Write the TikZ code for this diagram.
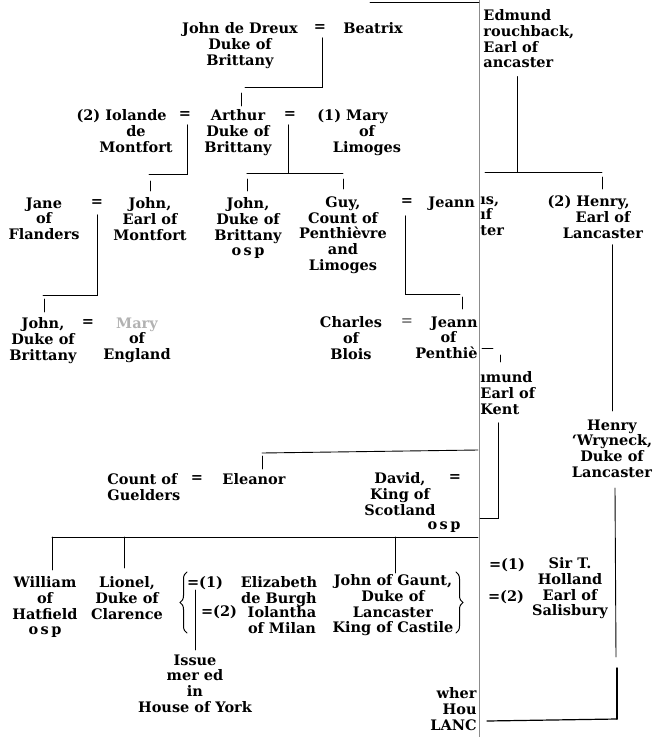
\documentclass[tikz,border=0pt]{standalone}
\usepackage{fontspec}
\setmainfont{DejaVu Serif}
\usetikzlibrary{decorations.pathreplacing}
\newcommand{\chartfont}{\bfseries\fontsize{14.5}{15.8}\selectfont}

\begin{document}
\begin{tikzpicture}[x=1pt, y=-1pt, line width=0.9pt, line cap=round,
  person/.style={anchor=north, align=center, inner sep=0pt, font=\chartfont},
  wed/.style={inner sep=0pt, font=\chartfont},
  pageedge/.style={line width=0.5pt, draw=black!45},
  bracket/.style={decorate, decoration={brace, amplitude=7pt}, line width=1pt}]
  \useasboundingbox (0,0) rectangle (662,737);

  %% ════ de Dreux / Brittany ════
  \node[person] (dreux) at (240,22) {John de Dreux\\Duke of\\Brittany};
  \node[wed] (eqA) at (320,28) {=};
  \node[person] (beatrix) at (373,22) {Beatrix};

  \node[person] (iolande) at (136,109) {\llap{(2) }Iolande\\de\\Montfort};
  \node[wed] (eqB) at (185,115) {=};
  \node[person] (arthur) at (238,109) {Arthur\\Duke of\\Brittany};
  \node[wed] (eqC) at (290,115) {=};
  \node[person] (mary) at (367,109) {\llap{(1) }Mary\\of\\Limoges};

  \node[person] (jane) at (44,197) {Jane\\of\\Flanders};
  \node[wed] (eqD) at (97,203) {=};
  \node[person] (johnM) at (150,197) {John,\\Earl of\\Montfort};
  \node[person] (johnB) at (248,197) {John,\\Duke of\\Brittany\\o\,s\,p};
  \node[person] (guy) at (343,196) {Guy,\\Count of\\Penthièvre\\and\\Limoges};
  \node[wed] (eqE) at (407,202) {=};
  \node[person, anchor=north west] (jeann) at (428,196) {Jeann};

  \node[person] (johnD) at (43,317) {John,\\Duke of\\Brittany};
  \node[wed] (eqF) at (88,323) {=};
  \node[person] (maryE) at (137,317) {{\color{black!30}Mary}\\of\\England};
  \node[person] (charles) at (351,316) {Charles\\of\\Blois};
  \node[wed, text=black!55] (eqG) at (407,322) {=};
  \node[person, anchor=north east, align=right] (jeannP) at (478,316) {Jeann\\of\hphantom{nn}\\Penthiè};

  %% ════ Edward's line ════
  \node[person] (eleanor) at (254,473) {Eleanor};
  \node[wed] (eqH) at (197,479) {=};
  \node[person, anchor=north west, align=left] (countG) at (107,473) {Count of\\Guelders};
  \node[person] (david) at (400,472) {David,\\King of\\Scotland};
  \node[wed] (eqI) at (455,478) {=};
  \node[wed] (ospD) at (444,527) {o\,s\,p};

  \node[person] (william) at (45,576) {William\\of\\Hatfield\\o\,s\,p};
  \node[person] (lionel) at (127,576) {Lionel,\\Duke of\\Clarence};
  \node[wed] (eqL1) at (205,583) {=(1)};
  \node[person] (elizabeth) at (279,576) {Elizabeth\\de Burgh};
  \node[wed] (eqL2) at (219,612) {=(2)};
  \node[person] (iolantha) at (282,606) {Iolantha\\of Milan};
  \node[person] (issue) at (195,654) {Issue\\mer ed\\in\\House of York};
  \node[person] (gaunt) at (393,574) {John of Gaunt,\\Duke of\\Lancaster\\King of Castile};
  \node[person, anchor=north east, align=right] (whence) at (477,687) {wher\\Hou\\LANC};

  %% ════ pasted strip (Lancaster / Kent) ════
  \node[person, anchor=north west, align=left] (crouch) at (483,9) {Edmund\\rouchback,\\Earl of\\ancaster};
  \node[person, anchor=north west, align=left] (thomas) at (480,196) {ıs,\\ıf\\ter};
  \node[person] (henry) at (603,195) {\llap{(2) }Henry,\\Earl of\\Lancaster};
  \node[person, anchor=north west, align=left] (edmundK) at (480,371) {ımund\\Earl of\\Kent};
  \node[person] (henryW) at (612,419) {Henry\\‘Wryneck,\\Duke of\\Lancaster};
  \node[wed] (eqJ1) at (507,565) {=(1)};
  \node[wed] (eqJ2) at (506,597) {=(2)};
  \node[person] (holland) at (570,557) {Sir T.\\Holland\\Earl of\\Salisbury};

  %% ════ descent lines ════
  \coordinate (bA) at (245,87);
  \draw (eqA.south) ++(2,6) |- (bA);
  \draw (arthur.north) ++(3,-3) -- ++(0,-13);

  \coordinate (bB) at (149,174);
  \draw (eqB.south) ++(2,6) |- (bB);
  \draw (johnM.north) ++(0,-6) -- ++(0,-10);

  \coordinate (bC1) at (247,173);
  \coordinate (bC2) at (343,173);
  \draw (eqC.south) ++(-2,6) |- (bC1);
  \draw (bC1) -- (bC2);
  \draw (johnB.north) ++(-1,-6) -- ++(0,-12);
  \draw (guy.north) ++(0,-7) -- ++(0,-10);

  \coordinate (bD) at (43,295);
  \draw (eqD.south) ++(0,8) |- (bD);
  \draw (johnD.north) ++(1,-5) -- ++(0,-13);

  \coordinate (bE) at (460,294);
  \draw (eqE.south) ++(-2,10) |- (bE);
  \draw (jeannP.north -| bE) ++(2,-7) -- ++(0,-12);

  \coordinate (eL) at (262,453);
  \coordinate (eR) at (478,450);
  \draw (eL) -- (eR);
  \draw (eleanor.north -| eL) ++(0,-4) -- ++(0,-13);

  \coordinate (gL) at (52,537);
  \coordinate (gR) at (478,537);
  \draw (gL) -- (gR);
  \draw (gL) -- ++(0,33);
  \draw (lionel.north |- gL) ++(-3,0) -- ++(0,31);
  \draw (gaunt.north |- gL) ++(2,0) -- ++(0,36);

  \coordinate (lm) at (195,590);
  \draw (lm) -- ++(0,60);
  \draw[bracket] (187,633) -- (187,572);
  \draw[bracket] (456,572) -- (456,633);

  %% ════ strip lines ════
  \draw[pageedge] (479,0) -- (479,737);
  \draw (370,2) -- (479,2);

  \coordinate (cr) at (517,172);
  \coordinate (bF1) at (485,172);
  \coordinate (bF2) at (602,172);
  \draw (crouch.south -| cr) ++(0,8) -- (cr);
  \draw (bF1) -- (bF2);
  \draw (henry.north -| bF2) ++(0,-6) -- ++(0,-12);
  \draw (henry.south -| henryW.north) ++(0,6) -- ([yshift=8pt]henryW.north);

  \draw (482,348) -- (493,348);
  \coordinate (kt) at (500,362);
  \draw (kt) -- ++(0,-7);
  \coordinate (kb) at (480,518);
  \draw (edmundK.south -| 498,0) ++(0,8) |- (kb);

  \coordinate (hw) at (617,719);
  \draw (henryW.south) ++(3,10) -- (616,657);
  \draw[line width=1.5pt] (617,668) -- (hw);
  \draw[line width=1.2pt] (hw) -- (487,721);
\end{tikzpicture}
\end{document}
